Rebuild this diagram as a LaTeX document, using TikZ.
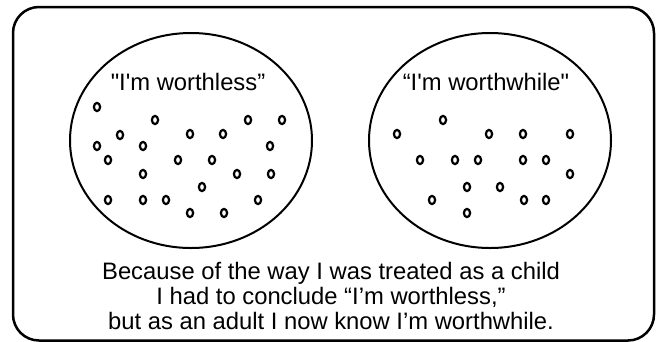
\documentclass[tikz,border=0pt]{standalone}
\usepackage{fontspec}
\setmainfont{Liberation Sans}[Ligatures=TeXOff]
\usetikzlibrary{shapes.geometric}
\tikzset{
  bubble/.style={draw, ellipse, line width=2pt, inner sep=0pt,
    minimum width=242pt, minimum height=215pt},
  ring/.style={draw, ellipse, line width=2.2pt, inner sep=0pt,
    minimum width=6.2pt, minimum height=8.2pt},
  saying/.style={font=\fontsize{23.8}{25}\selectfont},
}

\begin{document}
\begin{tikzpicture}[x=1pt, y=-1pt]
  \useasboundingbox (0,0) rectangle (656,341);
  \draw[line width=2.5pt, rounded corners=26pt] (13,7) rectangle (654,340.5);

  \node[bubble] (worthless) at (191,140.5) {};
  \node[bubble] (worthwhile) at (490,140.5) {};
  \node[saying] (lbl-less) at (188,82) {"I'm worthless”};
  \node[saying] (lbl-while) at (486,82) {“I'm worthwhile"};

  % dots, left bubble
  \foreach \x/\y [count=\i] in {97/107, 155/120, 248/120, 282/120, 120/135,
      190/134, 223/134, 97/146, 143/146, 270/146, 108/160, 178/160, 212/160,
      143/174, 237/174, 271/174, 202/187, 108/200, 143/200, 166/200, 258/200,
      190/213, 224/213}
    \node[ring] (l\i) at (\x,\y) {};

  % dots, right bubble
  \foreach \x/\y [count=\i] in {443/120, 397/134, 489/134, 523/134, 570/134,
      420/160, 455/160, 478/160, 523/160, 546/160, 570/174, 467/187, 500/187,
      432/200, 524/200, 546/200, 467/213}
    \node[ring] (r\i) at (\x,\y) {};

  \node[saying, align=center] (moral) at (331,296)
    {Because of the way I was treated as a child\\
     I had to conclude “I’m worthless,”\\
     but as an adult I now know I’m worthwhile.};
\end{tikzpicture}
\end{document}
